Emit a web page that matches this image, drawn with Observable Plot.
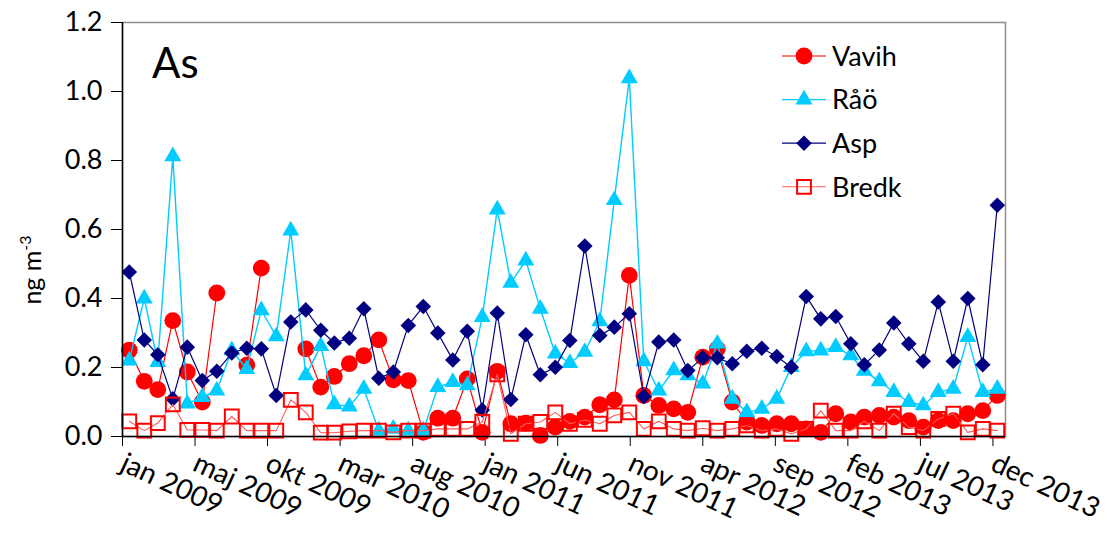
<!DOCTYPE html>
<html><head><meta charset="utf-8">
<script src="https://cdn.jsdelivr.net/npm/d3@7"></script>
<script src="https://cdn.jsdelivr.net/npm/@observablehq/plot@0.6"></script>
<style>
body{margin:0;background:#fff}
svg{font-family:Lato, "Open Sans", sans-serif}
</style>
</head><body><div id="chart"></div>
<script>
const months = [
"2009-01","2009-02","2009-03","2009-04","2009-05","2009-06","2009-07","2009-08","2009-09","2009-10","2009-11","2009-12",
"2010-01","2010-02","2010-03","2010-04","2010-05","2010-06","2010-07","2010-08","2010-09","2010-10","2010-11","2010-12",
"2011-01","2011-02","2011-03","2011-04","2011-05","2011-06","2011-07","2011-08","2011-09","2011-10","2011-11","2011-12",
"2012-01","2012-02","2012-03","2012-04","2012-05","2012-06","2012-07","2012-08","2012-09","2012-10","2012-11","2012-12",
"2013-01","2013-02","2013-03","2013-04","2013-05","2013-06","2013-07","2013-08","2013-09","2013-10","2013-11","2013-12"];

const vavih = [0.25,0.16,0.136,0.336,0.187,0.10,0.416,null,0.207,0.488,
 null,null,0.254,0.143,0.174,0.211,0.234,0.28,0.164,0.162,
 0.012,0.053,0.053,0.167,0.012,0.189,0.037,0.039,0.003,0.027,
 0.044,0.056,0.092,0.106,0.467,0.119,0.09,0.08,0.07,0.23,
 0.254,0.10,0.042,0.032,0.037,0.037,0.022,0.012,0.066,0.042,
 0.056,0.061,0.056,0.046,0.027,0.046,0.046,0.066,0.075,0.119];

const rao = [0.22,0.40,0.216,0.812,0.095,0.114,0.133,0.25,0.195,0.366,
 0.29,0.597,0.177,0.262,0.093,0.087,0.138,0.017,0.022,0.017,
 0.017,0.143,0.158,0.148,0.346,0.658,0.445,0.51,0.37,0.24,
 0.213,0.245,0.334,0.685,1.038,0.218,0.133,0.192,0.177,0.153,
 0.269,0.109,0.07,0.08,0.109,0.201,0.247,0.249,0.259,0.235,
 0.19,0.16,0.129,0.10,0.09,0.129,0.138,0.288,0.129,0.138];

const asp = [0.477,0.28,0.237,0.109,0.259,0.162,0.189,0.242,0.256,0.254,
 0.119,0.332,0.367,0.308,0.271,0.285,0.37,0.169,0.187,0.322,
 0.377,0.30,0.222,0.305,0.077,0.358,0.107,0.295,0.179,0.201,
 0.278,0.552,0.293,0.317,0.356,0.116,0.274,0.28,0.191,0.228,
 0.228,0.211,0.247,0.256,0.232,0.201,0.406,0.341,0.348,0.269,
 0.208,0.251,0.329,0.269,0.218,0.39,0.218,0.40,0.208,0.67];

const bredk = [0.044,0.017,0.039,0.093,0.019,0.019,0.017,0.058,0.017,0.017,
 0.017,0.106,0.07,0.011,0.011,0.015,0.017,0.017,0.012,0.017,
 0.017,0.022,0.022,0.022,0.042,0.18,0.008,0.037,0.042,0.07,
 0.037,0.048,0.037,0.061,0.07,0.022,0.044,0.022,0.017,0.024,
 0.017,0.022,0.032,0.017,0.022,0.008,0.022,0.075,0.017,0.017,
 0.044,0.017,0.066,0.027,0.017,0.051,0.066,0.012,0.022,0.017];

const xTickDates = ["2009-01-01","2009-05-31","2009-10-28","2010-03-27","2010-08-24","2011-01-21",
 "2011-06-20","2011-11-17","2012-04-15","2012-09-12","2013-02-09","2013-07-09","2013-12-06"];
const xTickLabels = ["jan 2009","maj 2009","okt 2009","mar 2010","aug 2010","jan 2011",
 "jun 2011","nov 2011","apr 2012","sep 2012","feb 2013","jul 2013","dec 2013"];
const yTicks = [0,0.2,0.4,0.6,0.8,1.0,1.2];
const xDomain = ["2009-01-01","2014-01-01"];

const seriesNames = ["Vavih","Råö","Asp","Bredk"];
const seriesValues = [vavih, rao, asp, bredk];

const styles = [
  {line:"#FF0000", lineWidth:1.2, symbol:"circle", r:8.4, fill:"#FF0000", stroke:"none", sw:0},
  {line:"#00CCFF", lineWidth:1.4, symbol:"triangle", r:6.3, fill:"#00CCFF", stroke:"none", sw:0},
  {line:"#000080", lineWidth:1.2, symbol:"diamond2", r:7.0, fill:"#000080", stroke:"none", sw:0},
  {line:"#FF5a5a", lineWidth:1.1, symbol:"square", r:7.8, fill:"none", stroke:"#FF0000", sw:2}
];

const toRows = vals => months.map((m,i) => ({date: new Date(m + "-15"), v: vals[i] == null ? NaN : vals[i]}));
const labelMap = new Map(xTickDates.map((d,i) => [+new Date(d), xTickLabels[i]]));

const seriesMarks = seriesValues.flatMap((vals, k) => {
  const s = styles[k];
  const rows = toRows(vals);
  return [
    Plot.line(rows, {x:"date", y:"v", stroke:s.line, strokeWidth:s.lineWidth}),
    Plot.dot(rows.filter(d => !isNaN(d.v)), {x:"date", y:"v", symbol:s.symbol, r:s.r, fill:s.fill, stroke:s.stroke, strokeWidth:s.sw})
  ];
});

const plot = Plot.plot({
  width:1107, height:533,
  marginLeft:122, marginRight:102, marginTop:22, marginBottom:97,
  style:{fontFamily:"Lato, 'Open Sans', sans-serif", background:"#fff", overflow:"visible"},
  x:{type:"utc", domain:xDomain.map(d => new Date(d))},
  y:{domain:[0,1.2]},
  marks:[
    Plot.frame({stroke:"#8c8c8c", strokeWidth:1.5}),
    Plot.axisY({ticks:yTicks, tickFormat:d3.format(".1f"), tickSize:11, tickPadding:9, fontSize:27, label:null, stroke:"#000", fill:"#000"}),
    Plot.axisX({ticks:xTickDates.map(d => new Date(d)), tickFormat:d => labelMap.get(+d), tickRotate:25, tickSize:10, tickPadding:15, fontSize:28, label:null, stroke:"#000", fill:"#000"}),
    ...seriesMarks,
    Plot.ruleY([0], {stroke:"#000", strokeWidth:1.5}),
    Plot.ruleX([new Date(xDomain[0])], {stroke:"#000", strokeWidth:1.5})
  ]
});

document.getElementById("chart").appendChild(plot);

// annotations: title, y label, legend
const svg = d3.select(plot);
svg.append("text").attr("x",152).attr("y",78).attr("text-anchor","start").attr("font-size",42).attr("fill","#000").text("As");

const yl = svg.append("text").attr("transform","translate(41,270) rotate(-90)")
  .attr("text-anchor","middle").attr("font-size",25).attr("fill","#000");
yl.append("tspan").text("ng m");
yl.append("tspan").attr("font-size",16).attr("dy",-10).text("-3");

const symMap = {circle:d3.symbolCircle, triangle:d3.symbolTriangle, diamond2:d3.symbolDiamond2, square:d3.symbolSquare};
const lg = svg.append("g");
seriesNames.forEach((name,k) => {
  const s = styles[k];
  const y = 56 + k*43.6;
  lg.append("line").attr("x1",782).attr("x2",826).attr("y1",y).attr("y2",y)
    .attr("stroke",s.line).attr("stroke-width",s.lineWidth);
  lg.append("path").attr("transform",`translate(804,${y})`)
    .attr("d", d3.symbol().type(symMap[s.symbol]).size(Math.PI*s.r*s.r)())
    .attr("fill",s.fill).attr("stroke",s.stroke).attr("stroke-width",s.sw);
  lg.append("text").attr("x",832).attr("y",y).attr("dy","0.36em").attr("text-anchor","start").attr("font-size",27).attr("fill","#000").text(name);
});
</script>
</body></html>
